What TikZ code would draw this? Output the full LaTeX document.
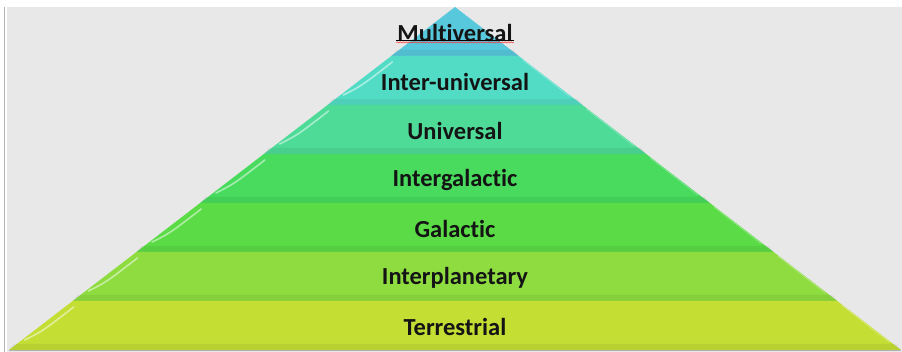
\documentclass[tikz,border=0pt]{standalone}
\usepackage{fontspec}
\setmainfont{Carlito}[Ligatures=NoCommon]
\usetikzlibrary{positioning,decorations.pathmorphing}

\definecolor{bggray}{HTML}{E8E8E8}
\definecolor{cMulti}{HTML}{58C8DC}
\definecolor{cInterUni}{HTML}{52DCC6}
\definecolor{cUni}{HTML}{4EDB98}
\definecolor{cInterGal}{HTML}{48DB5E}
\definecolor{cGal}{HTML}{5BDC46}
\definecolor{cInterPlan}{HTML}{8EDC40}
\definecolor{cTerr}{HTML}{C4DE34}

\begin{document}
\begin{tikzpicture}[
    x=1pt, y=-1pt,
    lbl/.style={font=\bfseries\fontsize{24.5}{28}\selectfont, text=black!92, inner sep=1pt},
    edge/.style={draw=black!30, line width=0.7pt},
    gloss/.style={white, opacity=0.5, line width=1.6pt, line cap=round}
]
    \useasboundingbox (0,0) rectangle (902,352);
    % background
    \fill[white] (0,0) rectangle (902,352);
    \fill[bggray] (7,7) rectangle (902,352);
    \draw[black!30, line width=0.8pt] (4,7) -- (4,352);

    % pyramid layers, top to bottom
    \foreach \i/\col/\name/\txt in {0/cMulti/multi/Multiversal,
                                    1/cInterUni/interuni/Inter-universal,
                                    2/cUni/uni/Universal,
                                    3/cInterGal/intergal/Intergalactic,
                                    4/cGal/gal/Galactic,
                                    5/cInterPlan/interplan/Interplanetary,
                                    6/cTerr/terr/Terrestrial} {
        \pgfmathsetmacro\yt{7+49*\i}
        \pgfmathsetmacro\yb{7+49*(\i+1)}
        \pgfmathsetmacro\wt{63.714*\i}
        \pgfmathsetmacro\wb{63.714*(\i+1)}
        \fill[\col] (455-\wt,\yt) -- (455+\wt,\yt) -- (455+\wb,\yb) -- (455-\wb,\yb) -- cycle;
        % bevel shading
        \fill[black, opacity=0.06] (455-\wb+5,\yb-6) -- (455+\wb-5,\yb-6) -- (455+\wb,\yb) -- (455-\wb,\yb) -- cycle;
        \draw[edge] (455-\wb,\yb) -- (455+\wb,\yb);
        \ifnum\i>0
            \draw[gloss] (455-\wt+1,\yt+6) .. controls (455-\wt-30,\yt+30) .. (455-\wt-48,\yt+39);
            \draw[white, opacity=0.3, line width=0.8pt] (455+\wt+4,\yt+4) -- (455+\wb-12,\yb-8);
        \fi
        \node[lbl] (\name) at (455,{(\yt+\yb)/2+1}) {\txt};
    }

    % spell-check marks under the top label
    \draw[black, line width=1.2pt] ([yshift=2pt]multi.south west) -- ([yshift=2pt]multi.south east);
    \draw[red!80, line width=0.5pt, decorate, decoration={snake, amplitude=0.6pt, segment length=3pt}]
        ([yshift=0pt]multi.south west) -- ([yshift=0pt]multi.south east);
\end{tikzpicture}
\end{document}
